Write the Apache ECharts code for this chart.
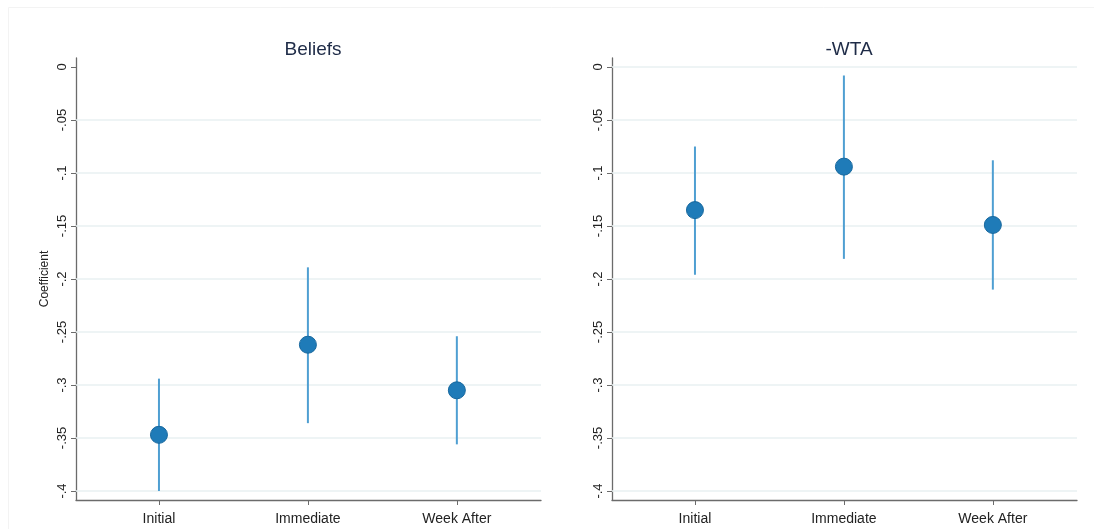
<!DOCTYPE html>
<html>
<head>
<meta charset="utf-8">
<script src="https://cdn.jsdelivr.net/npm/echarts@6/dist/echarts.min.js"></script>
<style>
  html, body { margin: 0; padding: 0; background: #ffffff; }
  #chart { width: 1094px; height: 529px; }
</style>
</head>
<body>
<div id="chart"></div>
<script>
// Coefficient estimates with 95% confidence intervals, by survey wave
const categories = ['Initial', 'Immediate', 'Week After'];
const panelTitles = ['Beliefs', '-WTA'];

const beliefsCoef = [-0.347, -0.262, -0.305];
const beliefsLow  = [-0.400, -0.336, -0.356];
const beliefsHigh = [-0.294, -0.189, -0.254];

const wtaCoef = [-0.135, -0.094, -0.149];
const wtaLow  = [-0.196, -0.181, -0.210];
const wtaHigh = [-0.075, -0.008, -0.088];

const yTicks = [0, -0.05, -0.1, -0.15, -0.2, -0.25, -0.3, -0.35, -0.4];
const beliefsGrid = [-0.05, -0.1, -0.15, -0.2, -0.25, -0.3, -0.35, -0.4];
const wtaGrid = [0, -0.05, -0.1, -0.15, -0.2, -0.25, -0.3, -0.35, -0.4];

const FONT = '"Liberation Sans", Arial, sans-serif';
const POINT_COLOR = '#1f7bb8';
const CI_COLOR = '#4f9fd2';
const AXIS_COLOR = '#6b6b6b';
const GRID_COLOR = '#e9f0f2';

// Stata-style tick text: drop the leading zero ("-.05")
function stataNum(v) {
  if (Math.abs(v) < 1e-9) return '0';
  let s = String(Math.round(v * 1000) / 1000);
  return s.replace('0.', '.');
}

const xPos = categories.map((c, i) => i + 1);

function xAxisFor(gridIndex) {
  return {
    type: 'value', gridIndex: gridIndex, min: 0.443, max: 3.565, position: 'bottom',
    axisLine: { show: true, onZero: false, lineStyle: { color: AXIS_COLOR, width: 1.3 } },
    axisTick: { show: true, length: 5, inside: false, customValues: xPos,
                lineStyle: { color: AXIS_COLOR, width: 1 } },
    axisLabel: { customValues: xPos, margin: 12, color: '#222', fontSize: 14, fontFamily: FONT,
                 formatter: v => categories[Math.round(v) - 1] || '' },
    splitLine: { show: false }
  };
}

function yAxisFor(gridIndex, name) {
  return {
    type: 'value', gridIndex: gridIndex, min: -0.4085, max: 0.0085,
    name: name, nameLocation: 'middle', nameGap: 25,
    nameTextStyle: { color: '#222', fontSize: 12, fontFamily: FONT },
    axisLine: { show: true, onZero: false, lineStyle: { color: AXIS_COLOR, width: 1.3 } },
    axisTick: { show: true, length: 5, customValues: yTicks,
                lineStyle: { color: AXIS_COLOR, width: 1 } },
    axisLabel: { customValues: yTicks, rotate: 90, margin: 7, color: '#222',
                 fontSize: 13, fontFamily: FONT, formatter: stataNum },
    splitLine: { show: false }
  };
}

function ciSeries(idx, coef, low, high) {
  return {
    type: 'custom', xAxisIndex: idx, yAxisIndex: idx, z: 3,
    data: coef.map((c, i) => [xPos[i], low[i], high[i]]),
    renderItem: function (params, api) {
      const a = api.coord([api.value(0), api.value(1)]);
      const b = api.coord([api.value(0), api.value(2)]);
      return { type: 'line',
               shape: { x1: a[0], y1: a[1], x2: b[0], y2: b[1] },
               style: { stroke: CI_COLOR, lineWidth: 2 } };
    }
  };
}

function pointSeries(idx, coef, gridVals) {
  return {
    type: 'scatter', xAxisIndex: idx, yAxisIndex: idx, z: 4,
    symbol: 'circle', symbolSize: 17,
    itemStyle: { color: POINT_COLOR, borderColor: '#18689e', borderWidth: 1, opacity: 1 },
    data: coef.map((c, i) => [xPos[i], c]),
    markLine: {
      silent: true, symbol: 'none', z: 1, animation: false,
      label: { show: false },
      lineStyle: { color: GRID_COLOR, width: 1.5, type: 'solid' },
      data: gridVals.map(v => ({ yAxis: v }))
    }
  };
}

const chart = echarts.init(document.getElementById('chart'), null, { renderer: 'canvas' });
chart.setOption({
  backgroundColor: '#ffffff',
  animation: false,
  graphic: [{
    type: 'rect', silent: true, z: -10,
    shape: { x: 8.5, y: 7.5, width: 1100, height: 540 },
    style: { fill: 'none', stroke: '#f3f3f3', lineWidth: 1 }
  }],
  title: [
    { text: panelTitles[0], left: 308, top: 35, textAlign: 'center',
      textStyle: { fontSize: 19, fontWeight: 'normal', color: '#1e2b47', fontFamily: FONT } },
    { text: panelTitles[1], left: 844, top: 35, textAlign: 'center',
      textStyle: { fontSize: 19, fontWeight: 'normal', color: '#1e2b47', fontFamily: FONT } }
  ],
  grid: [
    { left: 76, right: 553, top: 58, bottom: 29 },
    { left: 612, right: 17, top: 58, bottom: 29 }
  ],
  xAxis: [xAxisFor(0), xAxisFor(1)],
  yAxis: [yAxisFor(0, 'Coefficient'), yAxisFor(1, '')],
  series: [
    ciSeries(0, beliefsCoef, beliefsLow, beliefsHigh),
    pointSeries(0, beliefsCoef, beliefsGrid),
    ciSeries(1, wtaCoef, wtaLow, wtaHigh),
    pointSeries(1, wtaCoef, wtaGrid)
  ]
});
</script>
</body>
</html>
